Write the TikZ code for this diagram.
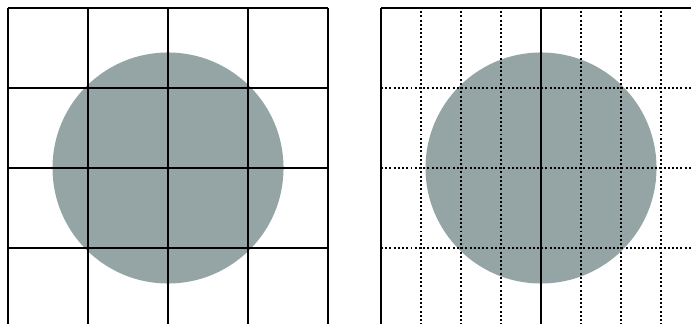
\documentclass[tikz,border=0pt]{standalone}
\usepackage{tikz}
\usetikzlibrary{positioning}

\definecolor{diskgray}{RGB}{149,165,166}

\begin{document}
\begin{tikzpicture}[
  coarse/.style={draw=black,line width=0.7pt},
  fine/.style={draw=black,line width=0.7pt,dash pattern=on 0.7pt off 0.8pt},
  disk/.style={fill=diskgray,draw=none}]
\useasboundingbox (0,-4.05) rectangle (8.6375,0);

% left panel, coarse grid
\fill[disk] (2.1,-2.1) circle (1.444);
\draw[coarse] (0.1,-0.1) -- (4.1,-0.1);
\draw[coarse] (0.1,-1.1) -- (4.1,-1.1);
\draw[coarse] (0.1,-2.1) -- (4.1,-2.1);
\draw[coarse] (0.1,-3.1) -- (4.1,-3.1);
\draw[coarse] (0.1,-0.1) -- (0.1,-4.05);
\draw[coarse] (1.1,-0.1) -- (1.1,-4.05);
\draw[coarse] (2.1,-0.1) -- (2.1,-4.05);
\draw[coarse] (3.1,-0.1) -- (3.1,-4.05);
\draw[coarse] (4.1,-0.1) -- (4.1,-4.05);

% right panel, refined grid
\fill[disk] (6.7625,-2.1) circle (1.444);
\draw[fine] (4.7625,-1.1) -- (8.6375,-1.1);
\draw[fine] (4.7625,-2.1) -- (8.6375,-2.1);
\draw[fine] (4.7625,-3.1) -- (8.6375,-3.1);
\draw[fine] (5.2625,-0.14) -- (5.2625,-4.05);
\draw[fine] (5.7625,-0.14) -- (5.7625,-4.05);
\draw[fine] (6.2625,-0.14) -- (6.2625,-4.05);
\draw[fine] (7.2625,-0.14) -- (7.2625,-4.05);
\draw[fine] (7.7625,-0.14) -- (7.7625,-4.05);
\draw[fine] (8.2625,-0.14) -- (8.2625,-4.05);
\draw[coarse] (4.7625,-0.1) -- (8.6375,-0.1);
\draw[coarse] (4.7625,-0.1) -- (4.7625,-4.05);
\draw[coarse] (6.7625,-0.1) -- (6.7625,-4.05);

\end{tikzpicture}
\end{document}
